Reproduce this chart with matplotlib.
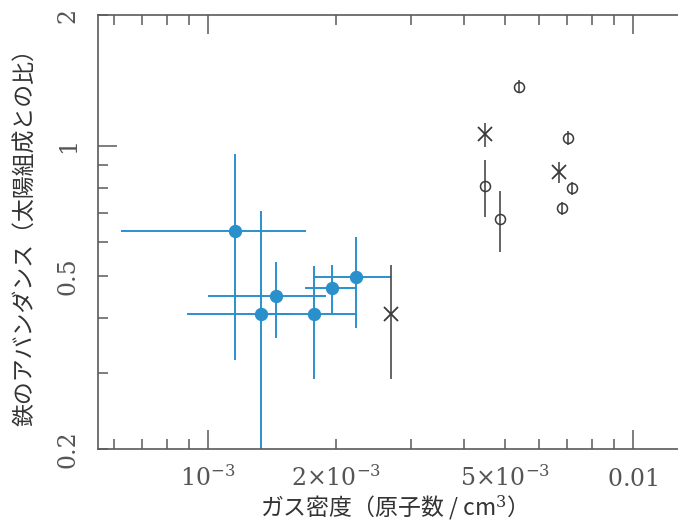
import numpy as np
import matplotlib
matplotlib.use('Agg')
import matplotlib.pyplot as plt
import matplotlib.ticker as ticker

# ---- data ----
# filled blue circles with x/y error bars
blue_x = [1.157e-3, 1.332e-3, 1.445e-3, 1.776e-3, 1.958e-3, 2.226e-3]
blue_xlo = [6.23e-4, 8.91e-4, 1.00e-3, 1.34e-3, 1.691e-3, 1.776e-3]
blue_xhi = [1.698e-3, 1.56e-3, 1.892e-3, 2.226e-3, 2.226e-3, 2.696e-3]
blue_y = [0.637, 0.410, 0.450, 0.410, 0.469, 0.499]
blue_ylo = [0.320, 0.15, 0.360, 0.290, 0.410, 0.380]
blue_yhi = [0.957, 0.707, 0.538, 0.529, 0.531, 0.617]

# black crosses
cross_x = [2.696e-3, 4.49e-3, 6.709e-3]
cross_y = [0.409, 1.064, 0.871]
cross_ylo = [0.290, 0.991, 0.822]
cross_yhi = [0.531, 1.129, 0.918]

# open circles
open_x = [4.49e-3, 4.864e-3, 5.393e-3, 7.02e-3, 7.175e-3, 6.80e-3]
open_y = [0.807, 0.677, 1.367, 1.043, 0.797, 0.717]
open_ylo = [0.686, 0.568, 1.322, 1.005, 0.770, 0.693]
open_yhi = [0.927, 0.786, 1.416, 1.080, 0.825, 0.742]

xticks = [1e-3, 2e-3, 5e-3, 1e-2]
xticklabels = [r'$10^{-3}$', r'$2{\times}10^{-3}$', r'$5{\times}10^{-3}$', r'$0.01$']
yticks = [0.2, 0.5, 1, 2]
yticklabels = ['0.2', '0.5', '1', '2']

xlabel = 'ガス密度（原子数 / cm$^{3}$）'
ylabel = '鉄のアバンダンス（太陽組成との比）'

# ---- style ----
plt.rcParams['mathtext.fontset'] = 'dejavuserif'
plt.rcParams['font.family'] = ['Noto Sans CJK JP', 'DejaVu Sans']
BLUE = '#2a90cc'
DARK = '#3a3a3a'
AXC = '#5a5a5a'

fig = plt.figure(figsize=(6.78, 5.26), dpi=100)
ax = fig.add_axes([0.1445, 0.1464, 0.8555, 0.8251])

def asym(v, lo, hi):
    v, lo, hi = np.array(v), np.array(lo), np.array(hi)
    return np.vstack([v - lo, hi - v])

ax.errorbar(blue_x, blue_y, xerr=asym(blue_x, blue_xlo, blue_xhi),
            yerr=asym(blue_y, blue_ylo, blue_yhi), fmt='o', ms=8.6,
            color=BLUE, mec=BLUE, ecolor=BLUE, elinewidth=1.4, capsize=0)

ax.errorbar(cross_x, cross_y, yerr=asym(cross_y, cross_ylo, cross_yhi),
            fmt='x', ms=10, mew=1.3, color=DARK, ecolor=DARK,
            elinewidth=1.1, capsize=0)

ax.errorbar(open_x, open_y, yerr=asym(open_y, open_ylo, open_yhi),
            fmt='o', ms=7.2, mfc='none', mew=1.1, mec=DARK, ecolor=DARK,
            elinewidth=1.1, capsize=0)

ax.set_xscale('log')
ax.set_yscale('log')
ax.set_xlim(5.51e-4, 1.2763e-2)
ax.set_ylim(0.2, 2)

ax.xaxis.set_major_locator(ticker.FixedLocator(xticks))
ax.xaxis.set_minor_locator(ticker.LogLocator(base=10, subs=np.arange(2, 10)))
ax.yaxis.set_major_locator(ticker.FixedLocator(yticks))
ax.yaxis.set_minor_locator(ticker.LogLocator(base=10, subs=np.arange(2, 10)))
ax.xaxis.set_minor_formatter(ticker.NullFormatter())
ax.yaxis.set_minor_formatter(ticker.NullFormatter())

ax.set_xticklabels(xticklabels, fontsize=17, color='#555555', va='baseline')
ax.set_yticklabels(yticklabels, fontsize=17, color='#555555', rotation=90,
                   va='center', ha='right', family='DejaVu Serif')

# only decades get long ticks
ax.tick_params(which='both', direction='in', top=True, right=False,
               color=AXC, width=1.1)
ax.tick_params(which='major', length=7, pad=27)
ax.tick_params(which='minor', length=7)
ax.tick_params(axis='y', which='major', pad=13)
for v, t in zip(xticks, ax.xaxis.get_major_ticks()):
    if v in (1e-3, 1e-2):
        t.tick1line.set_markersize(14)
        t.tick2line.set_markersize(14)
for v, t in zip(yticks, ax.yaxis.get_major_ticks()):
    if v == 1:
        t.tick1line.set_markersize(14)

for s in ['left', 'bottom', 'top']:
    ax.spines[s].set_color(AXC)
    ax.spines[s].set_linewidth(1.2)
ax.spines['right'].set_visible(False)

ax.set_xlabel(xlabel, fontsize=16.5, color='#333333', labelpad=1)
ax.set_ylabel(ylabel, fontsize=16.5, color='#333333', labelpad=14)

fig.savefig('out.png', dpi=100, facecolor='white')
